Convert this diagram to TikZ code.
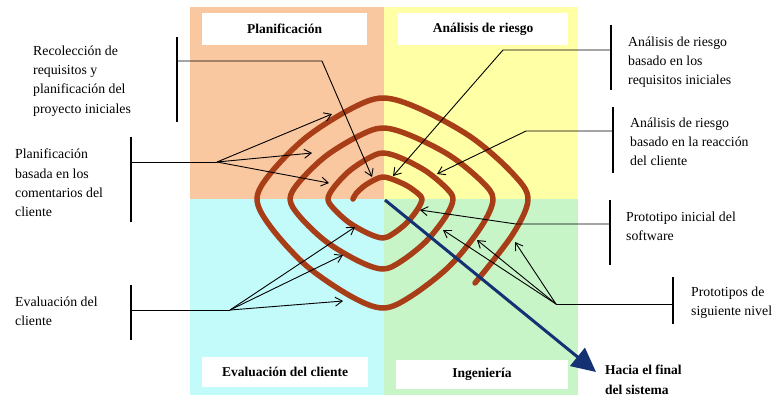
\documentclass[tikz,border=0pt]{standalone}
\usepackage{fontspec}
\setmainfont{Liberation Serif}
\usetikzlibrary{arrows.meta}
\definecolor{qorange}{RGB}{250,200,160}
\definecolor{qyellow}{RGB}{255,255,165}
\definecolor{qcyan}{RGB}{195,250,250}
\definecolor{qgreen}{RGB}{200,245,200}
\definecolor{spiralbrown}{RGB}{168,62,24}
\definecolor{navyblue}{RGB}{20,50,115}
\begin{document}
\begin{tikzpicture}[x=1pt,y=-1pt,
  lbl/.style={font=\fontsize{13.8}{19.2}\selectfont, align=left, inner sep=0pt, anchor=west},
  boldlbl/.style={lbl, font=\fontsize{13.5}{19.5}\selectfont\bfseries},
  titlebox/.style={fill=white, inner sep=0pt, font=\fontsize{13.5}{15}\selectfont\bfseries},
  ann/.style={line width=0.9pt, black},
  bar/.style={line width=1.3pt, black},
  tipline/.style={ann, -{Straight Barb[length=7pt,width=9pt]}},
  spiral/.style={line width=5.5pt, spiralbrown, line cap=round, line join=round}
]
\useasboundingbox (0,0) rectangle (773,397);
\fill[white] (0,0) rectangle (773,397);
% quadrants
\fill[qorange] (190,7) rectangle (384,199);
\fill[qyellow] (384,7) rectangle (578,199);
\fill[qcyan] (190,199) rectangle (384,395);
\fill[qgreen] (384,199) rectangle (578,395);
% title boxes
\node[titlebox, minimum width=165pt, minimum height=32pt] (tplan) at (284.5,29) {Planificación};
\node[titlebox, minimum width=170pt, minimum height=32pt] (trisk) at (483,29) {Análisis de riesgo};
\node[titlebox, minimum width=166pt, minimum height=30pt] (teval) at (285,372) {Evaluación del cliente};
\node[titlebox, minimum width=172pt, minimum height=29pt] (teng) at (482,374.5) {Ingeniería};
% spiral
\draw[spiral] plot[smooth, tension=0.55] coordinates {
(353,199)
(356.2,193.4) (364.7,185.6) (375.4,179.4)
(383,177)
(392.9,179.4) (406.8,185.6) (417.8,193.4)
(422,199)
(417.8,208.9) (406.8,222.8) (392.9,233.8)
(383,238)
(369.0,233.8) (349.4,222.8) (333.9,208.9)
(328,199)
(333.9,187.3) (349.4,170.9) (369.0,157.9)
(383,153)
(400.8,157.9) (425.7,170.9) (445.5,187.3)
(453,199)
(445.5,216.8) (425.7,241.7) (400.8,261.5)
(383,269)
(359.4,261.5) (326.3,241.7) (300.0,216.8)
(290,199)
(300.0,181.0) (326.3,155.7) (359.4,135.6)
(383,128)
(410.9,135.6) (450.1,155.7) (481.2,181.0)
(493,199)
(481.2,226.7) (450.1,265.5) (410.9,296.3)
(383,308)
(351.0,296.3) (306.1,265.5) (270.5,226.7)
(257,199)
(270.5,173.3) (306.1,137.4) (351.0,108.8)
(383,98)
(419.8,108.8) (471.5,137.4) (512.5,173.3)
(528,199)
(512.5,234.6) (475,283)};
% labels
\node[lbl] (lrec) at (33,81) {Recolección de\\requisitos y\\planificación del\\proyecto iniciales};
\node[lbl] (lplan) at (15,183) {Planificación\\basada en los\\comentarios del\\cliente};
\node[lbl] (leval) at (15,311) {Evaluación del\\cliente};
\node[lbl] (lrisk1) at (628,62) {Análisis de riesgo\\basado en los\\requisitos iniciales};
\node[lbl] (lrisk2) at (630,142) {Análisis de riesgo\\basado en la reacción\\del cliente};
\node[lbl] (lproto1) at (626,226) {Prototipo inicial del\\software};
\node[lbl] (lproto2) at (691,303) {Prototipos de\\siguiente nivel};
\node[boldlbl] (lend) at (605,380) {Hacia el final\\del sistema};
% bars
\coordinate (b1t) at (177,37); \coordinate (b1b) at (177,122);
\coordinate (b2t) at (131,137); \coordinate (b2b) at (131,222);
\coordinate (b3t) at (611,25); \coordinate (b3b) at (611,90);
\coordinate (b4t) at (613,107); \coordinate (b4b) at (613,173);
\coordinate (b5t) at (610,200); \coordinate (b5b) at (610,265);
\coordinate (b6t) at (673,277); \coordinate (b6b) at (673,324);
\coordinate (b7t) at (131,285); \coordinate (b7b) at (131,340);
\foreach \i in {1,...,7} {\draw[bar] (b\i t) -- (b\i b);}
% annotation 1
\coordinate (a1s) at (177,61); \coordinate (a1k) at (322,61); \coordinate (a1e) at (372,177);
\draw[tipline] (a1s) -- (a1k) -- (a1e);
% annotation 2
\coordinate (a2s) at (131,162); \coordinate (a2k) at (217,162);
\coordinate (a2e1) at (332,114); \coordinate (a2e2) at (312,153); \coordinate (a2e3) at (329,183);
\draw[ann] (a2s) -- (a2k);
\draw[tipline] (a2k) -- (a2e1);
\draw[tipline] (a2k) -- (a2e2);
\draw[tipline] (a2k) -- (a2e3);
% annotation 3
\coordinate (a3s) at (611,50); \coordinate (a3k) at (503,50); \coordinate (a3e) at (393,176);
\draw[tipline] (a3s) -- (a3k) -- (a3e);
% annotation 4
\coordinate (a4s) at (613,131); \coordinate (a4k) at (526,131); \coordinate (a4e) at (437,174);
\draw[tipline] (a4s) -- (a4k) -- (a4e);
% annotation 5
\coordinate (a5s) at (610,224); \coordinate (a5k) at (516,224); \coordinate (a5e) at (420,210);
\draw[tipline] (a5s) -- (a5k) -- (a5e);
% annotation 6
\coordinate (a6s) at (673,304); \coordinate (a6k) at (556,304);
\coordinate (a6e1) at (443,230); \coordinate (a6e2) at (477,240); \coordinate (a6e3) at (515,242);
\draw[ann] (a6s) -- (a6k);
\draw[tipline] (a6k) -- (a6e1);
\draw[tipline] (a6k) -- (a6e2);
\draw[tipline] (a6k) -- (a6e3);
% annotation 7
\coordinate (a7s) at (131,310); \coordinate (a7k) at (230,310);
\coordinate (a7e1) at (355,227); \coordinate (a7e2) at (343,255); \coordinate (a7e3) at (343,301);
\draw[ann] (a7s) -- (a7k);
\draw[tipline] (a7k) -- (a7e1);
\draw[tipline] (a7k) -- (a7e2);
\draw[tipline] (a7k) -- (a7e3);
% blue arrow
\coordinate (bstart) at (385,200); \coordinate (bend) at (596,372);
\draw[navyblue, line width=3pt, -{Triangle[length=24pt,width=23pt]}] (bstart) -- (bend);
\end{tikzpicture}
\end{document}
